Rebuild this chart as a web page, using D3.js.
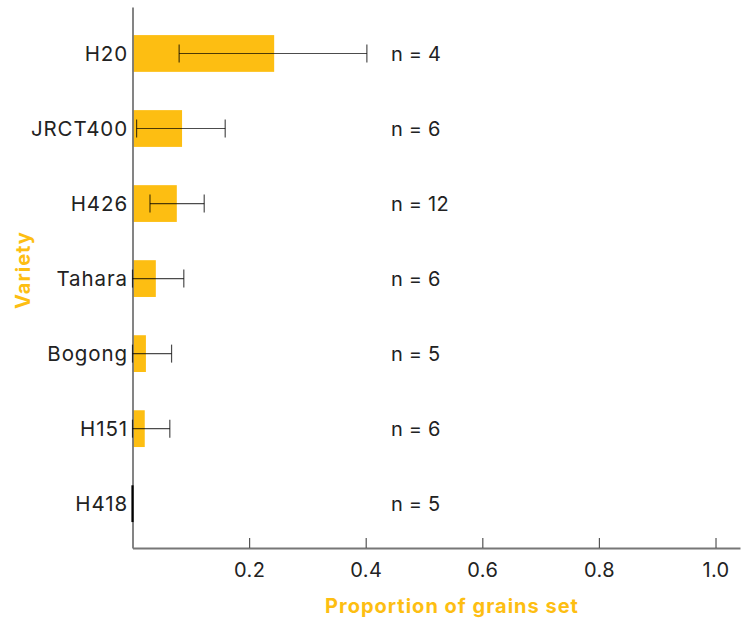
<!DOCTYPE html>
<html>
<head>
<meta charset="utf-8">
<script src="https://cdn.jsdelivr.net/npm/d3@7"></script>
<style>
  html, body { margin: 0; padding: 0; background: #fff; }
  svg { display: block; }
</style>
</head>
<body>
<script>
const varieties = ["H20", "JRCT400", "H426", "Tahara", "Bogong", "H151", "H418"];
const means = [0.243, 0.085, 0.076, 0.040, 0.023, 0.021, 0];
const lowers = [0.080, 0.007, 0.030, 0, 0, 0, 0];
const uppers = [0.402, 0.159, 0.123, 0.088, 0.067, 0.064, 0];
const counts = [4, 6, 12, 6, 5, 6, 5];
const xTicks = [0.2, 0.4, 0.6, 0.8, 1.0];

(function () {
const W = 741, H = 623;
const mLeft = 132.5, mRight = 740, mTop = 7, mBottom = 548;
const barColor = "#FDBE12";
const fontFam = "Inter, 'Open Sans', sans-serif";

const svg = d3.select("body").append("svg").attr("width", W).attr("height", H);

const x = d3.scaleLinear().domain([0, 1.042]).range([mLeft, mRight]);
const y = d3.scaleBand().domain(varieties).range([mTop, mBottom])
  .paddingInner(0.51).paddingOuter(0.36).align(0.52);

const data = varieties.map((v, i) => ({v, m: means[i], lo: lowers[i], hi: uppers[i], n: counts[i]}));

// bars
svg.append("g").selectAll("rect").data(data).join("rect")
  .attr("x", x(0))
  .attr("y", d => y(d.v))
  .attr("width", d => x(d.m) - x(0))
  .attr("height", y.bandwidth())
  .attr("fill", barColor);

// x axis
const xAxis = svg.append("g").attr("transform", `translate(0,${mBottom})`)
  .call(d3.axisBottom(x).tickValues(xTicks).tickFormat(d3.format(".1f"))
    .tickSizeInner(-10).tickSizeOuter(0).tickPadding(15));
xAxis.select(".domain").attr("stroke", "#777").attr("stroke-width", 1.8);
xAxis.selectAll(".tick line").attr("stroke", "#555").attr("stroke-width", 1.2);
xAxis.selectAll(".tick text").attr("font-family", fontFam).attr("font-size", 20).attr("fill", "#222")
  .attr("letter-spacing", "0.4px");

// y axis
const yAxis = svg.append("g").attr("transform", `translate(${mLeft},0)`)
  .call(d3.axisLeft(y).tickSize(0).tickPadding(4.5));
yAxis.select(".domain").attr("stroke", "#777").attr("stroke-width", 1.8);
yAxis.selectAll(".tick text").attr("font-family", fontFam).attr("font-size", 20.5).attr("fill", "#222")
  .attr("letter-spacing", "0.9px")
  .attr("dy", "0.36em");

// zero-value bars drawn as a dark line
svg.append("g").selectAll("line").data(data.filter(d => d.m === 0)).join("line")
  .attr("x1", x(0)).attr("x2", x(0))
  .attr("y1", d => y(d.v)).attr("y2", d => y(d.v) + y.bandwidth())
  .attr("stroke", "#000").attr("stroke-width", 2.2);

// error bars
const capH = 9;
const eb = svg.append("g").attr("stroke", "#000").attr("stroke-opacity", 0.7).attr("stroke-width", 1.2)
  .selectAll("g").data(data.filter(d => d.hi > 0)).join("g");
eb.append("line")
  .attr("x1", d => x(d.lo)).attr("x2", d => x(d.hi))
  .attr("y1", d => y(d.v) + y.bandwidth() / 2).attr("y2", d => y(d.v) + y.bandwidth() / 2);
eb.append("line")
  .attr("x1", d => x(d.lo)).attr("x2", d => x(d.lo))
  .attr("y1", d => y(d.v) + y.bandwidth() / 2 - capH).attr("y2", d => y(d.v) + y.bandwidth() / 2 + capH);
eb.append("line")
  .attr("x1", d => x(d.hi)).attr("x2", d => x(d.hi))
  .attr("y1", d => y(d.v) + y.bandwidth() / 2 - capH).attr("y2", d => y(d.v) + y.bandwidth() / 2 + capH);

// n labels
svg.append("g").selectAll("text").data(data).join("text")
  .attr("x", 391)
  .attr("y", d => y(d.v) + y.bandwidth() / 2)
  .attr("dy", "0.36em")
  .attr("font-family", fontFam).attr("font-size", 20).attr("fill", "#222")
  .attr("letter-spacing", "0.2px")
  .text(d => `n = ${d.n}`);

// axis titles
svg.append("text")
  .attr("x", 452).attr("y", 613)
  .attr("text-anchor", "middle")
  .attr("font-family", fontFam).attr("font-weight", 700).attr("font-size", 20)
  .attr("letter-spacing", "1px")
  .attr("fill", barColor)
  .text("Proportion of grains set");

svg.append("text")
  .attr("transform", "translate(30,270) rotate(-90)")
  .attr("text-anchor", "middle")
  .attr("font-family", fontFam).attr("font-weight", 700).attr("font-size", 20)
  .attr("letter-spacing", "1px")
  .attr("fill", barColor)
  .text("Variety");
})();
</script>
</body>
</html>
